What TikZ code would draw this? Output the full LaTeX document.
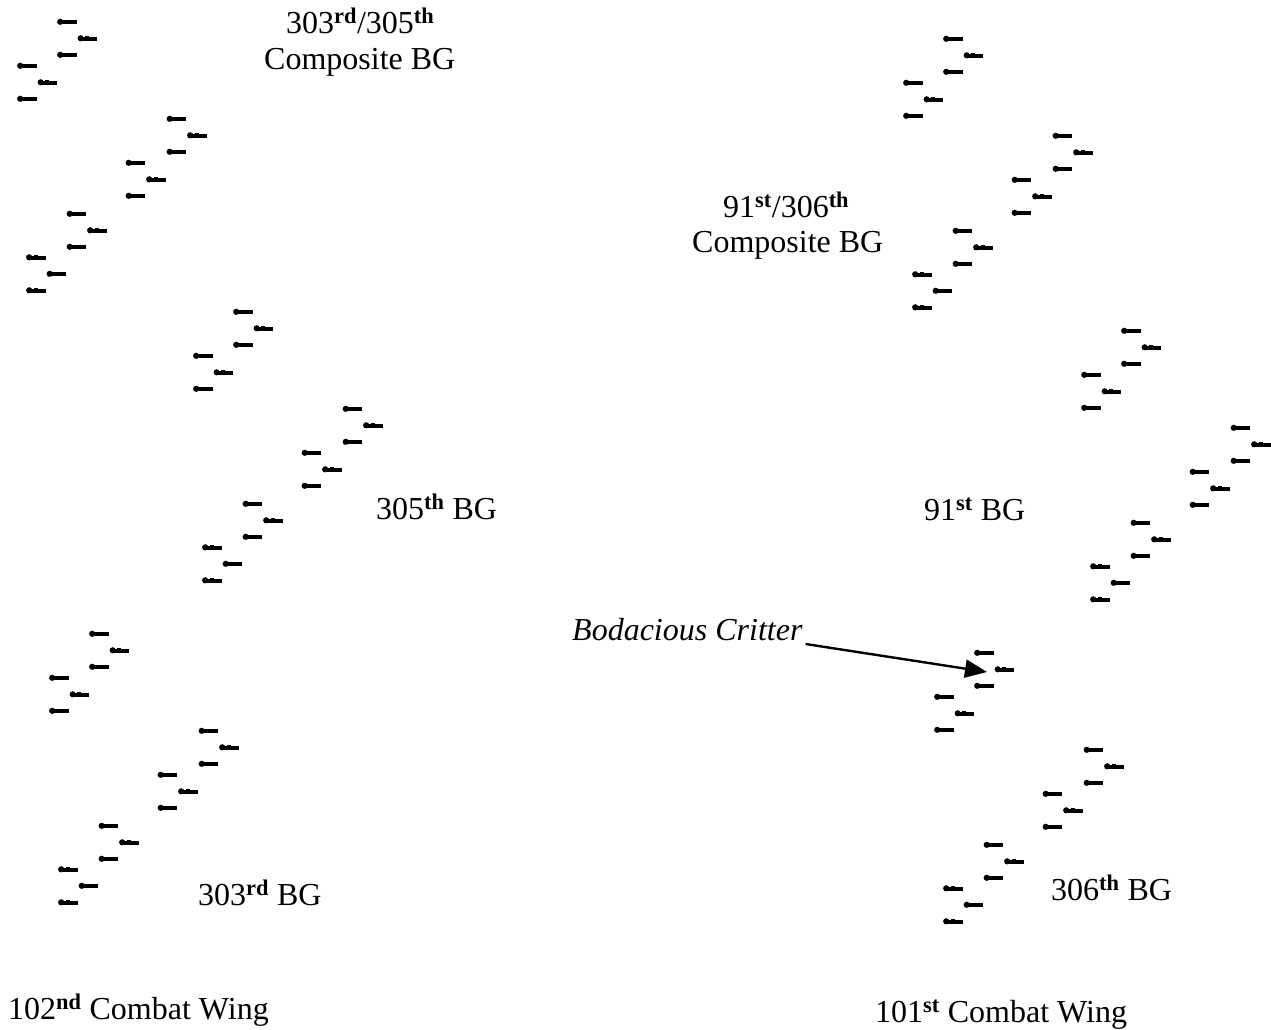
\documentclass[tikz,border=0pt]{standalone}
\usepackage{fontspec}
\setmainfont{Liberation Serif}
\usetikzlibrary{arrows.meta}
\newcommand\sups[1]{\textsuperscript{\bfseries #1}}
\tikzset{
  plane/.pic={
    \fill (1,-1.7) rectangle (19.5,2.3);
    \fill (3.2,-0.2) circle (3.1pt);
    \fill (7.5,-1.0) rectangle (11.5,-2.5);
  },
  lbl/.style={font=\fontsize{32}{38}\selectfont, inner sep=0pt, anchor=base west},
  arr/.style={line width=2.4pt, -{Triangle[length=22pt,width=18pt]}}
}
\newcommand\fgroup[2]{%
  \foreach \ex/\ey in {0/0,-40/44,109.5/97,68.5/141,9.5/192,-31/235.5}{%
    \foreach \px/\py in {0/0,20.5/16.5,0/33}{%
      \pic at ({#1+\ex+\px},{#2+\ey+\py}) {plane};
    }}}
\begin{document}
\begin{tikzpicture}[x=1pt,y=-1pt]
\useasboundingbox (0,0) rectangle (1271,1029);
% formations
\fgroup{57}{22}
\fgroup{233}{312}
\fgroup{89}{634}
\fgroup{943}{39}
\fgroup{1121}{331}
\fgroup{974}{653}
% labels
\node[lbl] (l1a) at (286,33) {303\sups{rd}/305\sups{th}};
\node[lbl] (l1b) at (264,69) {Composite BG};
\node[lbl] (l2a) at (723,217) {91\sups{st}/306\sups{th}};
\node[lbl] (l2b) at (692,252) {Composite BG};
\node[lbl] (l3) at (376,519) {305\sups{th} BG};
\node[lbl] (l4) at (924,520) {91\sups{st} BG};
\node[lbl] (bc) at (572,640) {\itshape Bodacious Critter};
\node[lbl] (l5) at (198,905) {303\sups{rd} BG};
\node[lbl] (l6) at (1051,900) {306\sups{th} BG};
\node[lbl] (w1) at (8,1019) {102\sups{nd} Combat Wing};
\node[lbl] (w2) at (875,1022) {101\sups{st} Combat Wing};
\coordinate (bctip) at (987,672);
\draw[arr] ([xshift=3pt,yshift=-4pt]bc.base east) -- (bctip);
\end{tikzpicture}
\end{document}
